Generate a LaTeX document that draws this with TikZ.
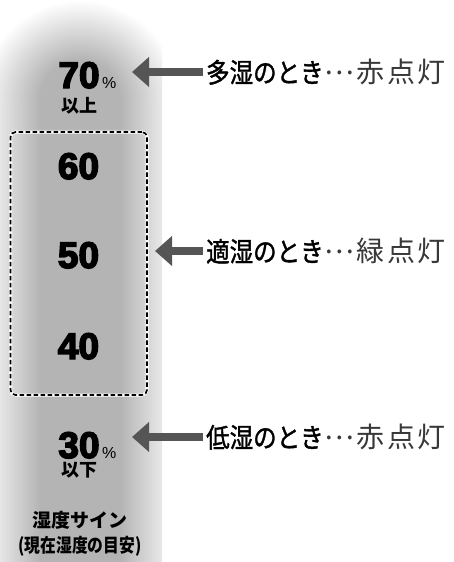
\documentclass[tikz,border=0pt]{standalone}
\usepackage{fontspec}
\setmainfont{Liberation Sans}
\newfontfamily\numfont[FakeBold=4]{Liberation Sans Bold}
\newfontfamily\jp{Noto Sans CJK JP}
\newfontfamily\jpmed[FakeBold=1.5]{Noto Sans CJK JP}
\usetikzlibrary{arrows.meta}
\definecolor{colB}{HTML}{B4B4B4}
\definecolor{colL}{HTML}{E6E6E6}
\definecolor{colR}{HTML}{E8E8E8}
\definecolor{arrowgray}{HTML}{555555}
\definecolor{suffixgray}{HTML}{383838}
\pgfdeclareradialshading{dome}{\pgfpoint{0bp}{0bp}}{color(0bp)=(colB); color(10bp)=(colB); color(25bp)=(white); color(50bp)=(white)}
\pgfdeclarehorizontalshading{colshade}{100bp}{color(0bp)=(colL); color(25bp)=(colL); color(37.35bp)=(colB); color(62.04bp)=(colB); color(75bp)=(colR); color(100bp)=(colR)}
\newcommand\midots{\makebox[1em]{\raisebox{0.3em}{…}}}
\newcommand\sfx[3]{{\color{suffixgray}\fontsize{28}{28}\selectfont\hspace{2pt}\midots\hspace{3pt}#1\hspace{2.5pt}#2\hspace{2.5pt}#3}}
\newcommand\mainlab[1]{\scalebox{0.87}[1]{\jpmed\fontsize{27}{27}\selectfont #1}}
\tikzset{
  num/.style={font=\numfont\fontsize{37}{37}\selectfont, inner sep=0pt, anchor=base},
  pct/.style={font=\fontsize{16}{16}\selectfont, inner sep=0pt, anchor=base west},
  unit/.style={font=\jp\fontsize{18}{18}\selectfont\bfseries, inner sep=0pt, anchor=base},
  sign/.style={font=\jp\fontsize{19}{19}\selectfont\bfseries, inner sep=0pt},
  lab/.style={font=\jp, inner sep=0pt, anchor=west, text=black},
  arr/.style={draw=arrowgray, line width=8.5pt, -{Triangle[length=17pt,width=29pt]}, shorten <=3pt},
  rangebox/.style={draw=black, line width=1.7pt, dash pattern=on 4.5pt off 2.5pt, rounded corners=5pt, inner sep=0pt,
    preaction={draw=white, line width=3pt, solid}}
}
\begin{document}
\begin{tikzpicture}[x=1pt,y=-1pt]
\useasboundingbox (0,0) rectangle (453,562);
\fill[white] (0,0) rectangle (453,562);
% column
\begin{scope}
  \clip (0,0) rectangle (162,100.4);
  \shade[shading=dome] (80,100) circle[radius=100];
\end{scope}
\shade[shading=colshade] (0,100) rectangle (162,562);
% dashed range box
\node[rangebox, minimum width=136.5pt, minimum height=263pt] (range) at (78.75,263.5) {};
% numbers
\node[num] (n70) at (79,88) {70};
\node[pct] (p70) at (102,88) {\%};
\node[unit] (u70) at (79.5,112) {以上};
\node[num] (n60) at (78.5,179) {60};
\node[num] (n50) at (78.5,268) {50};
\node[num] (n40) at (78.5,359) {40};
\node[num] (n30) at (79,458) {30};
\node[pct] (p30) at (102,458) {\%};
\node[unit] (u30) at (79.5,476.5) {以下};
\node[sign] (s1) at (79.5,520.5) {湿度サイン};
\node[sign] (s2) at (80,546) {\scalebox{0.83}[1]{(現在湿度の目安)}};
% labels and arrows
\node[lab] (hi) at (206,72) {\mainlab{多湿のとき}\sfx{赤}{点}{灯}};
\node[lab] (mid) at (206,251) {\mainlab{適湿のとき}\sfx{緑}{点}{灯}};
\node[lab] (lo) at (206,437) {\mainlab{低湿のとき}\sfx{赤}{点}{灯}};
\coordinate (hitip) at (132,72);
\coordinate (midtip) at (155,251);
\coordinate (lotip) at (132,437);
\draw[arr] (hi.west) -- (hitip);
\draw[arr] (mid.west) -- (midtip);
\draw[arr] (lo.west) -- (lotip);
\end{tikzpicture}
\end{document}
